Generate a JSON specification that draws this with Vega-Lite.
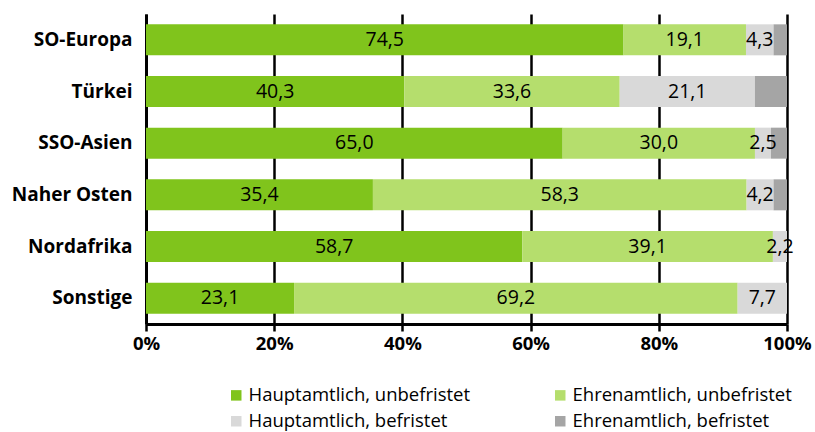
{
  "$schema": "https://vega.github.io/schema/vega-lite/v6.json",
  "width": 641,
  "height": 310,
  "autosize": {"type": "none"},
  "padding": {"left": 146, "top": 14, "right": 28, "bottom": 108},
  "config": {
    "locale": {"number": {"decimal": ",", "thousands": ".", "grouping": [3], "currency": ["", " €"]}},
    "view": {"stroke": null},
    "font": "Open Sans"
  },
  "data": {
    "values": [
      {"region": "SO-Europa", "series": "Hauptamtlich, unbefristet", "k": 1, "value": 74.5},
      {"region": "SO-Europa", "series": "Ehrenamtlich, unbefristet", "k": 2, "value": 19.1},
      {"region": "SO-Europa", "series": "Hauptamtlich, befristet", "k": 3, "value": 4.3},
      {"region": "SO-Europa", "series": "Ehrenamtlich, befristet", "k": 4, "value": 2.1},
      {"region": "Türkei", "series": "Hauptamtlich, unbefristet", "k": 1, "value": 40.3},
      {"region": "Türkei", "series": "Ehrenamtlich, unbefristet", "k": 2, "value": 33.6},
      {"region": "Türkei", "series": "Hauptamtlich, befristet", "k": 3, "value": 21.1},
      {"region": "Türkei", "series": "Ehrenamtlich, befristet", "k": 4, "value": 5.0},
      {"region": "SSO-Asien", "series": "Hauptamtlich, unbefristet", "k": 1, "value": 65.0},
      {"region": "SSO-Asien", "series": "Ehrenamtlich, unbefristet", "k": 2, "value": 30.0},
      {"region": "SSO-Asien", "series": "Hauptamtlich, befristet", "k": 3, "value": 2.5},
      {"region": "SSO-Asien", "series": "Ehrenamtlich, befristet", "k": 4, "value": 2.5},
      {"region": "Naher Osten", "series": "Hauptamtlich, unbefristet", "k": 1, "value": 35.4},
      {"region": "Naher Osten", "series": "Ehrenamtlich, unbefristet", "k": 2, "value": 58.3},
      {"region": "Naher Osten", "series": "Hauptamtlich, befristet", "k": 3, "value": 4.2},
      {"region": "Naher Osten", "series": "Ehrenamtlich, befristet", "k": 4, "value": 2.1},
      {"region": "Nordafrika", "series": "Hauptamtlich, unbefristet", "k": 1, "value": 58.7},
      {"region": "Nordafrika", "series": "Ehrenamtlich, unbefristet", "k": 2, "value": 39.1},
      {"region": "Nordafrika", "series": "Hauptamtlich, befristet", "k": 3, "value": 2.2},
      {"region": "Nordafrika", "series": "Ehrenamtlich, befristet", "k": 4, "value": 0},
      {"region": "Sonstige", "series": "Hauptamtlich, unbefristet", "k": 1, "value": 23.1},
      {"region": "Sonstige", "series": "Ehrenamtlich, unbefristet", "k": 2, "value": 69.2},
      {"region": "Sonstige", "series": "Hauptamtlich, befristet", "k": 3, "value": 7.7},
      {"region": "Sonstige", "series": "Ehrenamtlich, befristet", "k": 4, "value": 0}
    ]
  },
  "transform": [
    {"stack": "value", "groupby": ["region"], "sort": [{"field": "k", "order": "ascending"}], "as": ["x0", "x1"]}
  ],
  "layer": [
    {
      "mark": {"type": "bar"},
      "encoding": {
        "y": {
          "field": "region", "type": "nominal",
          "sort": ["SO-Europa", "Türkei", "SSO-Asien", "Naher Osten", "Nordafrika", "Sonstige"],
          "scale": {"paddingInner": 0.4, "paddingOuter": 0.2},
          "axis": {"title": null, "ticks": false, "domainColor": "#000", "domainWidth": 3, "labelFontSize": 19, "labelFontWeight": "bold", "labelColor": "#000", "labelPadding": 14, "grid": false}
        },
        "x": {
          "field": "x0", "type": "quantitative",
          "scale": {"domain": [0, 100]},
          "axis": {"title": null, "values": [0, 20, 40, 60, 80, 100], "labelExpr": "datum.value + '%'", "grid": true, "gridColor": "#000", "gridWidth": 2.5, "gridOpacity": 1, "domainColor": "#000", "domainWidth": 3, "tickColor": "#000", "tickWidth": 2.5, "tickSize": 7, "labelFontSize": 18.5, "labelFontWeight": "bold", "labelColor": "#000", "labelPadding": 3, "labelFlush": false}
        },
        "x2": {"field": "x1"},
        "color": {
          "field": "series", "type": "nominal",
          "scale": {
            "domain": ["Hauptamtlich, unbefristet", "Ehrenamtlich, unbefristet", "Hauptamtlich, befristet", "Ehrenamtlich, befristet"],
            "range": ["#80c41c", "#b5de6d", "#d9d9d9", "#a5a5a5"]
          },
          "legend": {"title": null, "orient": "none", "legendX": 81, "legendY": 372, "direction": "horizontal", "columns": 2, "symbolType": "square", "symbolSize": 110, "symbolStrokeWidth": 0, "labelFontSize": 18.5, "labelColor": "#000", "labelOffset": 3, "columnPadding": 80, "rowPadding": 7, "labelLimit": 400}
        }
      }
    },
    {
      "transform": [
        {"filter": "datum.series !== 'Ehrenamtlich, befristet'"},
        {"fold": ["x0", "x1"], "as": ["edge", "pos"]}
      ],
      "mark": {"type": "text", "fontSize": 19.5, "color": "#000"},
      "encoding": {
        "y": {"field": "region", "type": "nominal", "sort": ["SO-Europa", "Türkei", "SSO-Asien", "Naher Osten", "Nordafrika", "Sonstige"]},
        "x": {"aggregate": "mean", "field": "pos", "type": "quantitative"},
        "text": {"field": "value", "type": "quantitative", "format": ".1f"},
        "detail": {"field": "series"}
      }
    }
  ]
}
